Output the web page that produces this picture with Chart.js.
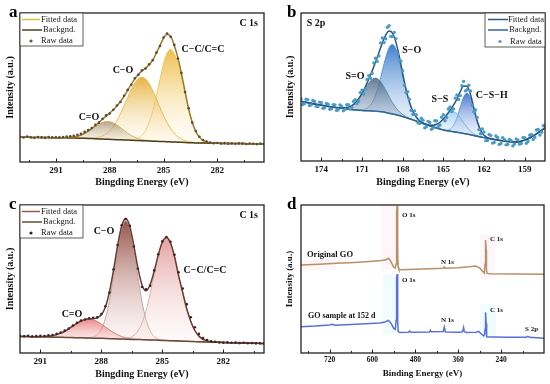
<!DOCTYPE html>
<html>
<head>
<meta charset="utf-8">
<script src="https://cdn.jsdelivr.net/npm/chart.js@4.4.0/dist/chart.umd.min.js"></script>
<style>
  body { margin: 0; background: #fff; }
  #wrap { position: relative; width: 550px; height: 384px; }
  .panel { position: absolute; width: 275px; height: 192px; }
</style>
</head>
<body>
<div id="wrap">
  <div class="panel" style="left:0;top:0"><canvas id="chartA"></canvas></div>
  <div class="panel" style="left:275px;top:0"><canvas id="chartB"></canvas></div>
  <div class="panel" style="left:0;top:192px"><canvas id="chartC"></canvas></div>
  <div class="panel" style="left:275px;top:192px"><canvas id="chartD"></canvas></div>
</div>
<script>
// ---------- panel a : C 1s ----------
const aEnergy = [
  293.0,292.8,292.6,292.4,292.2,292.0,291.8,291.6,291.4,291.2,
  291.0,290.8,290.6,290.4,290.2,290.0,289.8,289.6,289.4,289.2,
  289.0,288.8,288.6,288.4,288.2,288.0,287.8,287.6,287.4,287.2,
  287.0,286.8,286.6,286.4,286.2,286.0,285.8,285.6,285.4,285.2,
  285.0,284.8,284.6,284.4,284.2,284.0,283.8,283.6,283.4,283.2,
  283.0,282.8,282.6,282.4,282.2,282.0,281.8,281.6,281.4,281.2,
  281.0,280.8,280.6,280.4,280.2,280.0,279.8,279.6,279.4];
const aBackground = [
  16.6,16.6,16.6,16.5,16.5,16.5,16.4,16.4,16.4,16.3,
  16.3,16.3,16.2,16.2,16.1,16.1,16.0,16.0,15.9,15.8,
  15.7,15.6,15.5,15.4,15.3,15.2,15.1,15.0,14.9,14.8,
  14.7,14.6,14.5,14.4,14.3,14.2,14.1,14.0,13.9,13.8,
  13.7,13.6,13.5,13.4,13.3,13.2,13.1,13.0,12.9,12.8,
  12.8,12.7,12.7,12.6,12.6,12.6,12.5,12.5,12.5,12.4,
  12.4,12.4,12.4,12.3,12.3,12.3,12.3,12.2,12.2];
// heights above background
const aFitted = [
  0,0,0,0,0,0,0,0,0,0,
  0,0.05,0.1,0.2,0.4,0.7,1.25,2.1,3.3,4.9,
  6.7,8.9,11.1,13.3,15.5,17.7,20.0,22.6,25.7,29.3,
  33.4,37.5,41.3,44.5,46.8,48.9,51.2,54.6,59.1,64.4,
  69.5,72.2,70.8,64.8,56.6,46.1,34.2,22.7,13.8,7.7,
  3.9,1.8,0.8,0.3,0.1,0,0,0,0,0,
  0,0,0,0,0,0,0,0,0];
const aPeakCC = [
  0,0,0,0,0,0,0,0,0,0,
  0,0,0,0,0,0,0,0,0,0,
  0,0,0,0,0,0,0,0,0,0,
  0.1,0.3,0.7,1.7,3.6,7.0,12.5,20.5,30.5,41.5,
  52,59.5,62,59,53,44,33,22,13.5,7.5,
  3.8,1.8,0.8,0.3,0.1,0,0,0,0,0,
  0,0,0,0,0,0,0,0,0];
const aPeakCO = [
  0,0,0,0,0,0,0,0,0,0,
  0,0,0,0,0,0,0,0,0.1,0.2,
  0.3,0.7,1.2,2.1,3.6,5.8,8.8,12.7,17.5,22.9,
  28.6,34.0,38.5,41.5,42.5,41.5,38.5,34.0,28.6,22.9,
  17.5,12.7,8.8,5.8,3.6,2.1,1.2,0.7,0.3,0.2,
  0.1,0,0,0,0,0,0,0,0,0,
  0,0,0,0,0,0,0,0,0];
const aPeakCdO = [
  0,0,0,0,0,0,0,0,0,0,
  0,0.05,0.1,0.2,0.4,0.7,1.25,2.1,3.2,4.7,
  6.4,8.2,9.9,11.2,11.9,11.9,11.2,9.9,8.2,6.4,
  4.7,3.2,2.1,1.25,0.7,0.4,0.2,0.1,0,0,
  0,0,0,0,0,0,0,0,0,0,
  0,0,0,0,0,0,0,0,0,0,
  0,0,0,0,0,0,0,0,0];
const aRaw = [
  16.9,16.4,17.0,16.6,16.3,16.8,16.5,16.2,16.7,16.6,
  16.6,16.5,16.8,17.0,17.3,17.6,18.3,19.0,20.2,21.5,
  22.8,24.9,26.4,29.0,31.3,32.6,35.0,37.9,40.3,44.4,
  48.4,51.8,56.2,58.6,61.5,62.8,65.6,68.3,73.4,77.9,
  83.6,86.2,84.0,78.6,69.5,59.8,47.0,36.1,26.4,20.8,
  16.9,14.8,13.7,13.1,12.6,12.8,12.4,12.7,12.3,12.5,
  12.2,12.5,12.3,12.1,12.4,12.2,12.0,12.3,12.1];
const aTicks = [291, 288, 285, 282];
const aMinor = [292.5, 289.5, 286.5, 283.5, 280.5];

// ---------- panel b : S 2p ----------
const bEnergy = [
  175.5,175.25,175.0,174.75,174.5,174.25,174.0,173.75,
  173.5,173.25,173.0,172.75,172.5,172.25,172.0,171.75,
  171.5,171.25,171.0,170.75,170.5,170.25,170.0,169.75,
  169.5,169.25,169.0,168.75,168.5,168.25,168.0,167.75,
  167.5,167.25,167.0,166.75,166.5,166.25,166.0,165.75,
  165.5,165.25,165.0,164.75,164.5,164.25,164.0,163.75,
  163.5,163.25,163.0,162.75,162.5,162.25,162.0,161.75,
  161.5,161.25,161.0,160.75,160.5,160.25,160.0,159.75,
  159.5,159.25,159.0,158.75,158.5,158.25,158.0,157.75,
  157.5];
const bBackground = [
  40.3,39.9,39.4,39.0,38.5,38.1,37.7,37.3,
  36.9,36.5,36.2,35.9,35.6,35.3,35.0,34.7,
  34.5,34.3,34.1,34.0,33.9,33.8,33.7,33.5,
  33.2,32.8,32.3,31.8,31.3,30.7,30.0,29.3,
  28.6,27.8,27.0,26.1,25.3,24.5,23.7,23.0,
  22.3,21.6,21.0,20.5,20.1,19.8,19.4,19.0,
  18.6,18.2,17.7,17.2,16.7,16.2,15.8,15.4,
  15.0,14.6,14.2,13.8,13.5,13.2,13.0,12.8,
  12.9,13.4,14.1,15.0,16.2,17.6,19.2,20.8,
  22.4];
const bFitted = [
  0,0,0,0,0,0,0,0,
  0,0.01,0.04,0.12,0.3,0.67,1.4,2.7,
  4.7,7.8,11.6,16.2,21.5,27.1,33.2,39.8,
  46.6,52.3,55.5,54.6,49.0,39.9,29.2,19.1,
  11.2,5.8,2.7,1.1,0.5,0.3,0.5,1.2,
  2.5,4.6,7.4,10.8,14.1,17.9,22.4,27.9,
  32.0,32.3,27.2,18.7,10.3,4.6,1.6,0.4,
  0.1,0,0,0,0,0,0,0,
  0,0,0,0,0,0,0,0,
  0];
const bPeakSdO = [
  0,0,0,0,0,0,0,0,
  0,0.01,0.04,0.12,0.3,0.67,1.4,2.7,
  4.7,7.6,11.2,15.1,18.8,21.4,22.3,21.4,
  18.8,15.1,11.2,7.6,4.7,2.7,1.4,0.67,
  0.3,0.12,0.04,0,0,0,0,0,
  0,0,0,0,0,0,0,0,
  0,0,0,0,0,0,0,0,
  0,0,0,0,0,0,0,0,
  0,0,0,0,0,0,0,0,
  0];
const bPeakSO = [
  0,0,0,0,0,0,0,0,
  0,0,0,0,0,0,0,0,
  0.04,0.15,0.4,1.1,2.7,5.7,10.9,18.4,
  27.8,37.2,44.3,47,44.3,37.2,27.8,18.4,
  10.9,5.7,2.7,1.1,0.4,0.15,0.04,0,
  0,0,0,0,0,0,0,0,
  0,0,0,0,0,0,0,0,
  0,0,0,0,0,0,0,0,
  0,0,0,0,0,0,0,0,
  0];
const bPeakSS = [
  0,0,0,0,0,0,0,0,
  0,0,0,0,0,0,0,0,
  0,0,0,0,0,0,0,0,
  0,0,0,0,0,0,0,0,
  0,0,0,0,0.06,0.18,0.5,1.2,
  2.5,4.6,7.3,10.4,12.6,13.5,12.6,10.4,
  7.3,4.6,2.5,1.2,0.5,0.18,0.06,0,
  0,0,0,0,0,0,0,0,
  0,0,0,0,0,0,0,0,
  0];
const bPeakCSH = [
  0,0,0,0,0,0,0,0,
  0,0,0,0,0,0,0,0,
  0,0,0,0,0,0,0,0,
  0,0,0,0,0,0,0,0,
  0,0,0,0,0,0,0,0,
  0,0.02,0.1,0.43,1.5,4.4,9.8,17.5,
  24.7,27.7,24.7,17.5,9.8,4.4,1.5,0.43,
  0.1,0,0,0,0,0,0,0,
  0,0,0,0,0,0,0,0,
  0];
const bRaw = [
  42.1,38.6,41.5,37.9,40.2,36.8,39.5,35.9,
  38.4,35.2,37.9,34.6,37.1,34.8,38.0,36.1,
  41.5,40.3,47.9,48.6,57.8,59.2,69.5,71.0,
  83.1,82.6,91.5,84.2,82.7,68.3,61.0,46.2,
  41.7,31.5,31.2,25.4,27.6,23.1,26.0,22.4,
  27.1,24.3,31.2,29.4,36.5,35.1,44.6,44.2,
  53.8,48.1,47.3,33.2,29.5,18.4,19.6,13.9,
  17.2,12.5,15.9,11.8,14.6,11.2,13.9,11.5,
  14.3,11.9,15.8,13.2,17.9,16.0,21.4,19.5,
  24.0];
// the scan is denser than the grid above: the in-between points
const bEnergyMid = [
  175.375,175.125,174.875,174.625,174.375,174.125,173.875,173.625,
  173.375,173.125,172.875,172.625,172.375,172.125,171.875,171.625,
  171.375,171.125,170.875,170.625,170.375,170.125,169.875,169.625,
  169.375,169.125,168.875,168.625,168.375,168.125,167.875,167.625,
  167.375,167.125,166.875,166.625,166.375,166.125,165.875,165.625,
  165.375,165.125,164.875,164.625,164.375,164.125,163.875,163.625,
  163.375,163.125,162.875,162.625,162.375,162.125,161.875,161.625,
  161.375,161.125,160.875,160.625,160.375,160.125,159.875,159.625,
  159.375,159.125,158.875,158.625,158.375,158.125,157.875,157.625];
const bRawMid = [
  38.2,41.8,37.5,40.9,36.9,39.8,35.6,38.9,
  34.9,38.1,34.2,37.8,33.9,38.0,35.1,40.2,
  38.9,46.2,45.3,55.1,55.9,66.2,67.3,79.8,
  80.1,90.3,84.2,86.9,72.1,67.5,51.2,46.8,
  34.1,33.9,25.8,28.9,22.4,26.8,21.5,27.2,
  23.1,29.6,27.2,35.1,33.4,42.5,41.6,50.9,
  47.4,51.2,37.6,34.5,21.2,21.7,13.8,17.9,
  12.1,16.9,11.2,15.8,10.9,14.6,10.2,14.9,
  11.3,15.8,12.0,17.4,14.5,20.9,17.6,23.8];
const bTicks = [174, 171, 168, 165, 162, 159];
const bMinor = [172.5, 169.5, 166.5, 163.5, 160.5];

// ---------- panel c : C 1s (152 d) ----------
const cEnergy = [
  292.0,291.8,291.6,291.4,291.2,291.0,290.8,290.6,290.4,290.2,
  290.0,289.8,289.6,289.4,289.2,289.0,288.8,288.6,288.4,288.2,
  288.0,287.8,287.6,287.4,287.2,287.0,286.8,286.6,286.4,286.2,
  286.0,285.8,285.6,285.4,285.2,285.0,284.8,284.6,284.4,284.2,
  284.0,283.8,283.6,283.4,283.2,283.0,282.8,282.6,282.4,282.2,
  282.0,281.8,281.6,281.4,281.2,281.0,280.8,280.6,280.4,280.2,
  280.0];
const cBackground = [
  11.2,11.1,11.1,11.0,11.0,10.9,10.9,10.8,10.7,10.7,
  10.6,10.5,10.5,10.4,10.3,10.3,10.2,10.1,10.0,10.0,
  9.9,9.8,9.7,9.6,9.5,9.4,9.3,9.2,9.1,9.1,
  9.0,8.9,8.8,8.7,8.6,8.5,8.4,8.3,8.2,8.1,
  8.0,7.9,7.8,7.7,7.6,7.5,7.4,7.3,7.2,7.2,
  7.1,7.0,7.0,6.9,6.8,6.8,6.7,6.6,6.6,6.5,
  6.5];
const cFitted = [
  0,0,0,0,0.07,0.14,0.3,0.56,1.0,1.7,
  2.8,4.2,5.9,7.8,9.7,11.3,12.5,13.1,13.2,13.7,
  15.9,21.3,31.5,46.4,63.0,76.4,81.5,76.3,63.3,48.2,
  37.0,33.2,37.3,46.6,57.7,66.5,69.7,66.2,56.9,44.2,
  33,22,13.5,7.5,3.8,1.8,0.8,0.3,0.1,0,
  0,0,0,0,0,0,0,0,0,0,
  0];
const cPeakCdO = [
  0,0,0,0,0.07,0.14,0.3,0.56,1.0,1.7,
  2.8,4.2,5.9,7.8,9.7,11.3,12.4,12.8,12.4,11.3,
  9.7,7.8,5.9,4.2,2.8,1.7,1.0,0.56,0.3,0.14,
  0.07,0,0,0,0,0,0,0,0,0,
  0,0,0,0,0,0,0,0,0,0,
  0,0,0,0,0,0,0,0,0,0,
  0];
const cPeakCO = [
  0,0,0,0,0,0,0,0,0,0,
  0,0,0,0,0,0,0.08,0.25,0.8,2.4,
  6.2,13.5,25.6,42.2,60.2,74.5,80,74.5,60.2,42.2,
  25.6,13.5,6.2,2.4,0.8,0.25,0.08,0,0,0,
  0,0,0,0,0,0,0,0,0,0,
  0,0,0,0,0,0,0,0,0,0,
  0];
const cPeakCC = [
  0,0,0,0,0,0,0,0,0,0,
  0,0,0,0,0,0,0,0,0,0,
  0,0,0,0,0,0.15,0.45,1.2,2.8,5.9,
  11.3,19.7,31.1,44.2,56.9,66.2,69.6,66.2,56.9,44.2,
  33,22,13.5,7.5,3.8,1.8,0.8,0.3,0.1,0,
  0,0,0,0,0,0,0,0,0,0,
  0];
const cRaw = [
  11.5,11.3,11.6,11.2,11.4,11.6,11.5,11.9,12.2,12.9,
  13.8,15.1,16.6,18.5,20.4,21.9,22.6,23.4,23.8,24.1,
  26.3,31.6,40.8,56.4,72.9,86.3,90.5,85.9,72.0,56.9,
  44.6,43.0,45.5,55.8,66.7,75.4,78.4,75.2,66.4,54.6,
  43.5,33.0,24.2,17.4,12.9,10.1,8.8,7.9,7.6,7.1,
  7.0,7.2,6.9,7.0,6.7,6.9,6.6,6.7,6.5,6.6,
  6.4];
const cTicks = [291, 288, 285, 282];
const cMinor = [289.5, 286.5, 283.5, 280.5];

// ---------- panel d : survey ----------
const dEnergyOriginal = [800,750,700,650,600,575,562,556,551,546,541,536,534,533,532,531,530,529,528,526,
  520,480,440,402,399,396,360,330,312,300,292,287,285,284,283,282,281,279,270,200,120];
const dOriginal = [59.5,60.0,60.6,61.2,62.0,62.5,63.0,64.0,62.8,60.5,58.2,57.4,60,78,95,99.5,90,68,58,56.6,
  56.3,56.6,57.0,57.3,58.2,57.3,57.6,58.2,58.8,57.5,55.2,54.0,60,72,76.4,70,56,53.8,53.5,53.3,53.2];
const dEnergyAged = [800,760,720,712,705,660,620,580,565,556,551,546,541,536,534,533,532,531,530,529,
  528,524,500,496,492,440,438,435,402,399,396,360,350,347,345,343,338,310,303,296,
  289,286,285,284,283,282,281,280,260,220,170,165,160,120];
const dAged = [17.8,18.2,18.9,19.4,18.8,19.3,19.8,20.3,21.0,22.0,21.0,19.2,16.8,16.0,22,40,50,53.4,42,22,
  14.5,13.8,14.0,14.8,14.0,14.2,15.3,14.3,14.5,17.5,14.2,14.0,14.1,15.0,17.2,14.5,13.8,14.0,14.6,13.0,
  11.6,12.5,16,23,27.5,20,12,11.0,10.8,10.6,10.7,11.3,10.6,9.9];
// soft highlight boxes behind the main peaks: [from eV, to eV, top, bottom]
const dPinkGlow = [[576, 527, 100, 56], [300, 257, 80, 50], [800, 700, 63, 56]];
const dCyanGlow = [[571, 524, 53, 13], [300, 254, 33, 9.5]];
const dTicks = [720, 600, 480, 360, 240];
const dMinor = [780, 660, 540, 420, 300, 180];

const SERIF = "'Liberation Serif', 'Times New Roman', serif";

function xy(xs, ys) {
  return xs.map((x, i) => ({ x: x, y: ys[i] }));
}
function addUp(base, h) {
  return base.map((b, i) => Math.round((b + h[i]) * 100) / 100);
}
function fade(top, bottom, c1, c2) {
  return function (context) {
    const chart = context.chart;
    if (!chart.chartArea) return c2;
    const y = chart.scales.y;
    const g = chart.ctx.createLinearGradient(0, y.getPixelForValue(top), 0, y.getPixelForValue(bottom));
    g.addColorStop(0, c1);
    g.addColorStop(1, c2);
    return g;
  };
}

// background is always dataset 0 so the peaks can fill down to it
function xpsDatasets(energy, bg, fitted, peaks, raw, col) {
  const sets = [{
    data: xy(energy, bg), borderColor: col.bg, borderWidth: 1.5,
    cubicInterpolationMode: 'monotone', fill: false, order: 2
  }];
  peaks.forEach(pk => {
    const ys = addUp(bg, pk.h);
    sets.push({
      data: xy(energy, ys), borderColor: pk.line, borderWidth: 0.9,
      cubicInterpolationMode: 'monotone', fill: 0,
      backgroundColor: fade(Math.max(...ys), Math.min(...bg) - 3, pk.c1, pk.c2),
      order: 3
    });
  });
  sets.push({
    data: xy(energy, addUp(bg, fitted)), borderColor: col.fit, borderWidth: 1.5,
    cubicInterpolationMode: 'monotone', fill: false, order: 1
  });
  sets.push({
    data: xy(energy, raw), showLine: false, pointRadius: col.dot, pointBorderWidth: 0,
    pointBackgroundColor: col.raw, order: 0
  });
  return sets;
}

function glowSets(boxes, color) {
  const out = [];
  boxes.forEach(b => {
    out.push({ data: [{ x: b[0], y: b[2] }, { x: b[1], y: b[2] }], borderWidth: 0, fill: '+1', backgroundColor: color, order: 5 });
    out.push({ data: [{ x: b[0], y: b[3] }, { x: b[1], y: b[3] }], borderWidth: 0, fill: false, order: 5 });
  });
  return out;
}

function makePanel(id, p) {
  const deco = {
    id: 'deco',
    afterDatasetsDraw(chart) {
      const ctx = chart.ctx, ca = chart.chartArea, x = chart.scales.x;
      ctx.save();
      ctx.strokeStyle = '#222';
      ctx.lineWidth = 1;
      p.ticks.forEach(v => {
        const px = Math.round(x.getPixelForValue(v)) + 0.5;
        ctx.beginPath(); ctx.moveTo(px, ca.bottom); ctx.lineTo(px, ca.bottom - 3.5); ctx.stroke();
      });
      p.minor.forEach(v => {
        const px = Math.round(x.getPixelForValue(v)) + 0.5;
        ctx.beginPath(); ctx.moveTo(px, ca.bottom); ctx.lineTo(px, ca.bottom - 2); ctx.stroke();
      });
      ctx.lineWidth = 1.3;
      ctx.strokeRect(ca.left, ca.top, ca.right - ca.left, ca.bottom - ca.top);
      ctx.restore();
    },
    afterDraw(chart) {
      const ctx = chart.ctx;
      ctx.save();
      ctx.textBaseline = 'middle';
      if (p.legend) {
        const lg = p.legend;
        ctx.fillStyle = '#fff';
        ctx.fillRect(lg.box[0], lg.box[1], lg.box[2], lg.box[3]);
        ctx.strokeStyle = '#333';
        ctx.lineWidth = 0.8;
        ctx.strokeRect(lg.box[0], lg.box[1], lg.box[2], lg.box[3]);
        ctx.font = '8.5px ' + SERIF;
        lg.items.forEach(it => {
          if (it.type === 'line') {
            ctx.strokeStyle = it.color; ctx.lineWidth = 1.5;
            ctx.beginPath(); ctx.moveTo(it.x1, it.y); ctx.lineTo(it.x2, it.y); ctx.stroke();
          } else {
            ctx.fillStyle = it.color;
            ctx.beginPath(); ctx.arc(it.x1, it.y, 1.6, 0, Math.PI * 2); ctx.fill();
          }
          ctx.fillStyle = '#222';
          ctx.textAlign = 'left';
          ctx.fillText(it.label, it.tx, it.y);
        });
      }
      p.texts.forEach(t => {
        ctx.font = 'bold ' + t.size + 'px ' + SERIF;
        ctx.fillStyle = '#111';
        ctx.textAlign = t.align;
        ctx.fillText(t.t, t.x, t.y);
      });
      ctx.textBaseline = 'alphabetic';
      ctx.textAlign = 'left';
      ctx.font = 'bold 17px ' + SERIF;
      ctx.fillStyle = '#000';
      ctx.fillText(p.letter, p.letterX, 17);
      ctx.restore();
    }
  };

  new Chart(document.getElementById(id), {
    type: 'line',
    data: { datasets: p.datasets },
    options: {
      responsive: true,
      maintainAspectRatio: false,
      animation: false,
      layout: { padding: { top: p.box.top, right: 275 - p.box.right, left: 0, bottom: 0 } },
      plugins: { legend: { display: false }, tooltip: { enabled: false } },
      elements: { point: { radius: 0 } },
      scales: {
        x: {
          type: 'linear', min: p.xMin, max: p.xMax, reverse: true,
          afterBuildTicks: s => { s.ticks = p.ticks.map(v => ({ value: v })); },
          afterFit: s => { s.height = 192 - p.box.bottom; },
          grid: { display: false, drawTicks: false },
          border: { display: false },
          ticks: { color: '#111', padding: 3, font: { family: SERIF, size: p.tickSize, weight: 'bold' } },
          title: {
            display: true, text: p.xTitle, color: '#111',
            font: { family: SERIF, size: p.titleSize, weight: 'bold' },
            padding: { top: 0, bottom: p.xTitlePad }
          }
        },
        y: {
          min: 0, max: 100,
          afterFit: s => { s.width = p.box.left; },
          grid: { display: false, drawTicks: false },
          border: { display: false },
          ticks: { display: false },
          title: {
            display: true, text: 'Intensity (a.u.)', color: '#111',
            font: { family: SERIF, size: p.yTitleSize, weight: 'bold' },
            padding: { top: p.yTitlePad, bottom: 0 }
          }
        }
      }
    },
    plugins: [deco]
  });
}

// panel a
makePanel('chartA', {
  xMin: 279.4, xMax: 293.0, ticks: aTicks, minor: aMinor,
  box: { left: 20, right: 264, top: 13, bottom: 162 },
  tickSize: 9, titleSize: 10, yTitleSize: 10, xTitlePad: 3.3, yTitlePad: 4,
  xTitle: 'Bingding Energy (eV)',
  letter: 'a', letterX: 9,
  datasets: xpsDatasets(aEnergy, aBackground, aFitted, [
    { h: aPeakCdO, line: '#d2ad5c', c1: 'rgba(150,128,85,0.7)', c2: 'rgba(245,238,220,0.1)' },
    { h: aPeakCO, line: '#e8b545', c1: 'rgba(228,170,45,0.88)', c2: 'rgba(255,246,222,0.12)' },
    { h: aPeakCC, line: '#efc250', c1: 'rgba(236,184,55,0.9)', c2: 'rgba(255,248,225,0.12)' }
  ], aRaw, { bg: '#4e3f1c', fit: '#9a7a30', raw: '#5a4a30', dot: 1.3 }),
  legend: {
    box: [20, 13, 63, 33],
    items: [
      { type: 'line', color: '#e4b448', x1: 22, x2: 40, y: 19.5, tx: 41, label: 'Fitted data' },
      { type: 'line', color: '#4e3f1c', x1: 22, x2: 42, y: 30, tx: 43, label: 'Backgnd.' },
      { type: 'dot', color: '#6a5a3a', x1: 31, y: 41, tx: 41, label: 'Raw data' }
    ]
  },
  texts: [
    { t: 'C 1s', x: 258, y: 23, align: 'right', size: 10 },
    { t: 'C\u2212C/C=C', x: 203, y: 49, align: 'center', size: 10 },
    { t: 'C\u2212O', x: 123, y: 70, align: 'center', size: 10 },
    { t: 'C=O', x: 89, y: 117, align: 'center', size: 10 }
  ]
});

// panel b
const bSets = xpsDatasets(bEnergy, bBackground, bFitted, [
  { h: bPeakSdO, line: '#5b87a8', c1: 'rgba(70,100,135,0.85)', c2: 'rgba(225,235,245,0.1)' },
  { h: bPeakSO, line: '#4c94d0', c1: 'rgba(45,115,200,0.9)', c2: 'rgba(225,238,252,0.1)' },
  { h: bPeakSS, line: '#6ab4e6', c1: 'rgba(100,170,230,0.75)', c2: 'rgba(230,242,252,0.1)' },
  { h: bPeakCSH, line: '#4f8fd8', c1: 'rgba(40,95,200,0.85)', c2: 'rgba(225,235,252,0.1)' }
], bRaw, { bg: '#2c6794', fit: '#2a5880', raw: '#4b9cc8', dot: 1.7 });
bSets.push({
  data: xy(bEnergyMid, bRawMid), showLine: false, pointRadius: 1.7, pointBorderWidth: 0,
  pointBackgroundColor: '#4b9cc8', order: 0
});
makePanel('chartB', {
  xMin: 157.5, xMax: 175.5, ticks: bTicks, minor: bMinor,
  box: { left: 26, right: 270, top: 13, bottom: 161 },
  tickSize: 9, titleSize: 10, yTitleSize: 10, xTitlePad: 3.3, yTitlePad: 9,
  xTitle: 'Bingding Energy (eV)',
  letter: 'b', letterX: 12,
  datasets: bSets,
  legend: {
    box: [210, 13, 60, 34],
    items: [
      { type: 'line', color: '#2a5880', x1: 213, x2: 233, y: 19.5, tx: 233, label: 'Fitted data' },
      { type: 'line', color: '#2c6794', x1: 213, x2: 233, y: 30, tx: 234, label: 'Backgnd.' },
      { type: 'dot', color: '#4b9cc8', x1: 225, y: 41.5, tx: 235, label: 'Raw data' }
    ]
  },
  texts: [
    { t: 'S 2p', x: 31.7, y: 23, align: 'left', size: 10 },
    { t: 'S\u2212O', x: 136.7, y: 50, align: 'center', size: 10 },
    { t: 'S=O', x: 80, y: 76, align: 'center', size: 10 },
    { t: 'S\u2212S', x: 165, y: 99, align: 'center', size: 10 },
    { t: 'C\u2212S\u2212H', x: 216.7, y: 95, align: 'center', size: 10 }
  ]
});

// panel c
makePanel('chartC', {
  xMin: 280, xMax: 292, ticks: cTicks, minor: cMinor,
  box: { left: 20, right: 264, top: 13, bottom: 161 },
  tickSize: 9, titleSize: 10, yTitleSize: 10, xTitlePad: 3.3, yTitlePad: 4,
  xTitle: 'Bingding Energy (eV)',
  letter: 'c', letterX: 9,
  datasets: xpsDatasets(cEnergy, cBackground, cFitted, [
    { h: cPeakCdO, line: '#c87a70', c1: 'rgba(228,95,95,0.75)', c2: 'rgba(255,225,225,0.15)' },
    { h: cPeakCC, line: '#cdb0a8', c1: 'rgba(218,130,130,0.75)', c2: 'rgba(255,235,235,0.15)' },
    { h: cPeakCO, line: '#b8a098', c1: 'rgba(135,65,55,0.9)', c2: 'rgba(252,225,225,0.2)' }
  ], cRaw, { bg: '#6a4a3a', fit: '#6d3a2e', raw: '#3a2626', dot: 1.3 }),
  legend: {
    box: [20, 13, 63, 33],
    items: [
      { type: 'line', color: '#a3524a', x1: 22, x2: 40, y: 19.5, tx: 41, label: 'Fitted data' },
      { type: 'line', color: '#6a4a3a', x1: 22, x2: 42, y: 30, tx: 43, label: 'Backgnd.' },
      { type: 'dot', color: '#3a2626', x1: 31, y: 41, tx: 41, label: 'Raw data' }
    ]
  },
  texts: [
    { t: 'C 1s', x: 258, y: 23, align: 'right', size: 10 },
    { t: 'C\u2212O', x: 104, y: 39, align: 'center', size: 10 },
    { t: 'C\u2212C/C=C', x: 205, y: 78, align: 'center', size: 10 },
    { t: 'C=O', x: 72, y: 122, align: 'center', size: 10 }
  ]
});

// panel d
makePanel('chartD', {
  xMin: 120, xMax: 800, ticks: dTicks, minor: dMinor,
  box: { left: 26, right: 269, top: 13, bottom: 161 },
  tickSize: 7.5, titleSize: 9, yTitleSize: 9, xTitlePad: 5.3, yTitlePad: 9.6,
  xTitle: 'Binding Energy (eV)',
  letter: 'd', letterX: 12,
  datasets: glowSets(dPinkGlow, 'rgba(248,200,214,0.16)')
    .concat(glowSets(dCyanGlow, 'rgba(190,240,250,0.22)'))
    .concat([
      { data: xy(dEnergyOriginal, dOriginal), borderColor: '#b89068', borderWidth: 1.5, tension: 0, fill: false, order: 1 },
      { data: xy(dEnergyAged, dAged), borderColor: '#5c6fd8', borderWidth: 1.5, tension: 0, fill: false, order: 1 }
    ]),
  legend: null,
  texts: [
    { t: 'O 1s', x: 127, y: 23, align: 'left', size: 7 },
    { t: 'C 1s', x: 215, y: 47, align: 'left', size: 7 },
    { t: 'N 1s', x: 166, y: 70, align: 'left', size: 7 },
    { t: 'Original GO', x: 32, y: 63, align: 'left', size: 8.5 },
    { t: 'O 1s', x: 127, y: 88, align: 'left', size: 7 },
    { t: 'C 1s', x: 215, y: 118, align: 'left', size: 7 },
    { t: 'N 1s', x: 166, y: 128, align: 'left', size: 7 },
    { t: 'S 2p', x: 250, y: 137, align: 'left', size: 7 },
    { t: 'GO sample at 152 d', x: 33, y: 124, align: 'left', size: 8 }
  ]
});
</script>
</body>
</html>
